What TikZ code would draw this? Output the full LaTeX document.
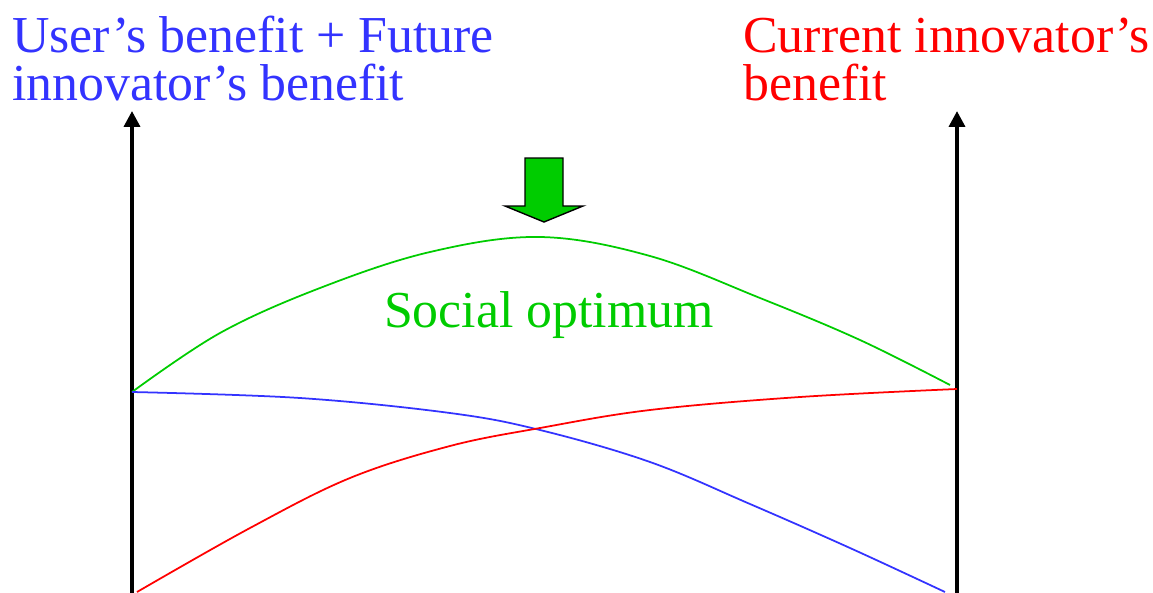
\documentclass[tikz,border=0pt]{standalone}
\usepackage{fontspec}
\newfontfamily\timesfont{Liberation Serif}
\usepackage{xcolor}
\usepackage{tikz}
\usetikzlibrary{arrows.meta}

\definecolor{userblue}{RGB}{51,51,255}
\definecolor{innored}{RGB}{255,0,0}
\definecolor{socgreen}{RGB}{0,204,0}

\begin{document}
\begin{tikzpicture}[x=0.02cm,y=-0.02cm,
    axis/.style={line width=2.1pt,-{Triangle[length=9pt,width=9pt]}},
    curve/.style={line width=1pt},
    label/.style={font=\timesfont\fontsize{29.5}{27}\selectfont,align=left,inner sep=0pt}]
        \useasboundingbox (0,0) rectangle (1153,592);
        % Axes
        \coordinate (lbot) at (132,600);
        \coordinate (ltop) at (132,111);
        \coordinate (rbot) at (957,600);
        \coordinate (rtop) at (957,111);
        \draw[axis] (lbot) -- (ltop);
        \draw[axis] (rbot) -- (rtop);
        % Axis titles
        \node[label,anchor=base west,text=userblue] (user) at (12,100) {User’s benefit + Future\\innovator’s benefit};
        \node[label,anchor=base west,text=innored] (inno) at (743,100) {Current innovator’s\\benefit};
        % Curves
        \draw[curve,socgreen] plot[smooth,tension=0.6] coordinates
            {(132,392) (220,333) (320,288) (430,252) (540,237) (650,256) (760,298) (860,340) (950,385)};
        \draw[curve,userblue] plot[smooth,tension=0.6] coordinates
            {(132,392) (300,398) (450,413) (540,430) (650,462) (750,504) (850,548) (945,592)};
        \draw[curve,innored] plot[smooth,tension=0.6] coordinates
            {(137,592) (250,528) (350,478) (450,446) (540,428) (650,410) (800,397) (957,389)};
        % Label of the top curve
        \node[label,text=socgreen,anchor=base] (soc) at (549,327) {Social optimum};
        % Block arrow over the peak
        \filldraw[fill=socgreen,draw=black,line width=0.8pt]
            (525,158) -- (563,158) -- (563,206) -- (583,206) -- (544,222)
            -- (505,206) -- (525,206) -- cycle;
    \end{tikzpicture}
\end{document}
